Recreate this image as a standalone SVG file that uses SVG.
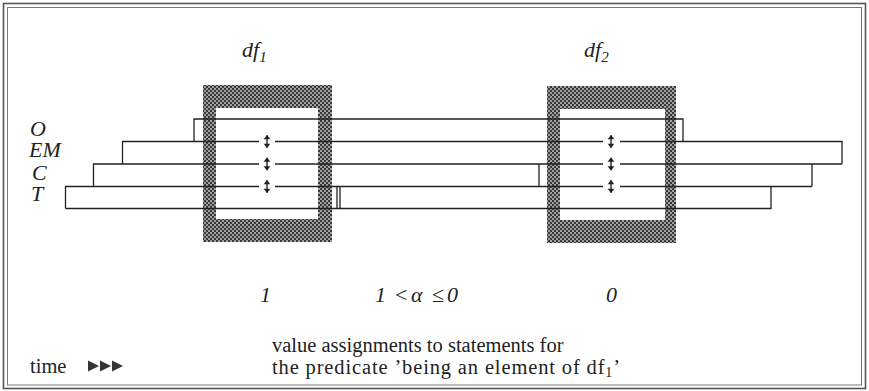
<svg xmlns="http://www.w3.org/2000/svg" width="869" height="391" viewBox="0 0 869 391">
<style>
.ln{stroke:#222;stroke-width:1.3;fill:none}
.lab{font-family:"Liberation Serif","Times New Roman",serif;font-style:italic;font-size:22px;fill:#222}
.txt{font-family:"Liberation Serif","Times New Roman",serif;font-size:20.5px;fill:#222}
.frame{fill:url(#dither);fill-rule:evenodd}
</style>
<defs>
<pattern id="dither" patternUnits="userSpaceOnUse" width="4" height="4">
<rect width="4" height="4" fill="#a0a0a0"/>
<rect x="0" y="0" width="2" height="2" fill="#383838"/>
<rect x="2" y="2" width="2" height="2" fill="#383838"/>
</pattern>
<g id="dbl">
<line x1="0" y1="-6" x2="0" y2="6" stroke="#222" stroke-width="1.4"/>
<polygon points="-3.3,-2.3 0,-6.8 3.3,-2.3" fill="#222"/>
<polygon points="-3.3,2.3 0,6.8 3.3,2.3" fill="#222"/>
</g>
</defs>
<rect width="869" height="391" fill="#fff"/>
<g id="border">
<rect x="3.5" y="3.5" width="862" height="385" fill="none" stroke="#555" stroke-width="1.6"/>
<rect x="7.5" y="7.5" width="854" height="377.5" fill="none" stroke="#777" stroke-width="1"/>
</g>
<g id="frames">
<g id="df1-frame"><path class="frame" d="M203,85H332V242H203Z M216,108V219H318V108Z"/></g>
<g id="df2-frame"><path class="frame" d="M547,86H676V243H547Z M560,109V220H665V109Z"/></g>
</g>
<g id="connectors">
<path class="ln" d="M194,141.5V119H683V141.5"/>
<path class="ln" d="M122.5,164V141.5H259 M275,141.5H603 M620,141.5H842V164"/>
<path class="ln" d="M93.5,186.5V164H259 M275,164H603 M620,164H842"/>
<path class="ln" d="M812,164V186.5"/>
<path class="ln" d="M65.5,208.5V186.5H259 M275,186.5H603 M620,186.5H812"/>
<path class="ln" d="M65.5,208.5H771V186.5"/>
<path class="ln" d="M337,186.5V208.5 M340,186.5V208.5 M539,164V186.5"/>
<use href="#dbl" x="267" y="141.5"/>
<use href="#dbl" x="267" y="164"/>
<use href="#dbl" x="267" y="186.5"/>
<use href="#dbl" x="611" y="141.5"/>
<use href="#dbl" x="611" y="164"/>
<use href="#dbl" x="611" y="186.5"/>
</g>
<g id="labels">
<text class="lab" x="30" y="136">O</text>
<text class="lab" x="29" y="157">EM</text>
<text class="lab" x="32" y="180">C</text>
<text class="lab" x="31" y="201">T</text>
<text class="lab" x="242" y="57" font-size="24">df<tspan font-size="15" dy="5">1</tspan></text>
<text class="lab" x="584" y="57" font-size="24">df<tspan font-size="15" dy="5">2</tspan></text>
<text class="lab" x="260" y="302">1</text>
<text class="lab" y="302"><tspan x="375">1</tspan><tspan x="395" font-style="normal">&lt;</tspan><tspan x="411">α</tspan><tspan x="432" font-style="normal">≤</tspan><tspan x="447">0</tspan></text>
<text class="lab" x="606" y="302">0</text>
<text class="txt" x="272" y="352">value assignments to statements for</text>
<text class="txt" x="272" y="374" font-size="21" textLength="348">the predicate ’being an element of df<tspan font-size="14" dy="3">1</tspan><tspan dy="-3">’</tspan></text>
<text class="txt" x="30" y="373" font-size="22">time</text>
<g id="time-arrows" fill="#333">
<polygon points="88,360.5 99,366 88,371.5"/>
<polygon points="100,360.5 111,366 100,371.5"/>
<polygon points="112,360.5 123,366 112,371.5"/>
</g>
</g>
</svg>
